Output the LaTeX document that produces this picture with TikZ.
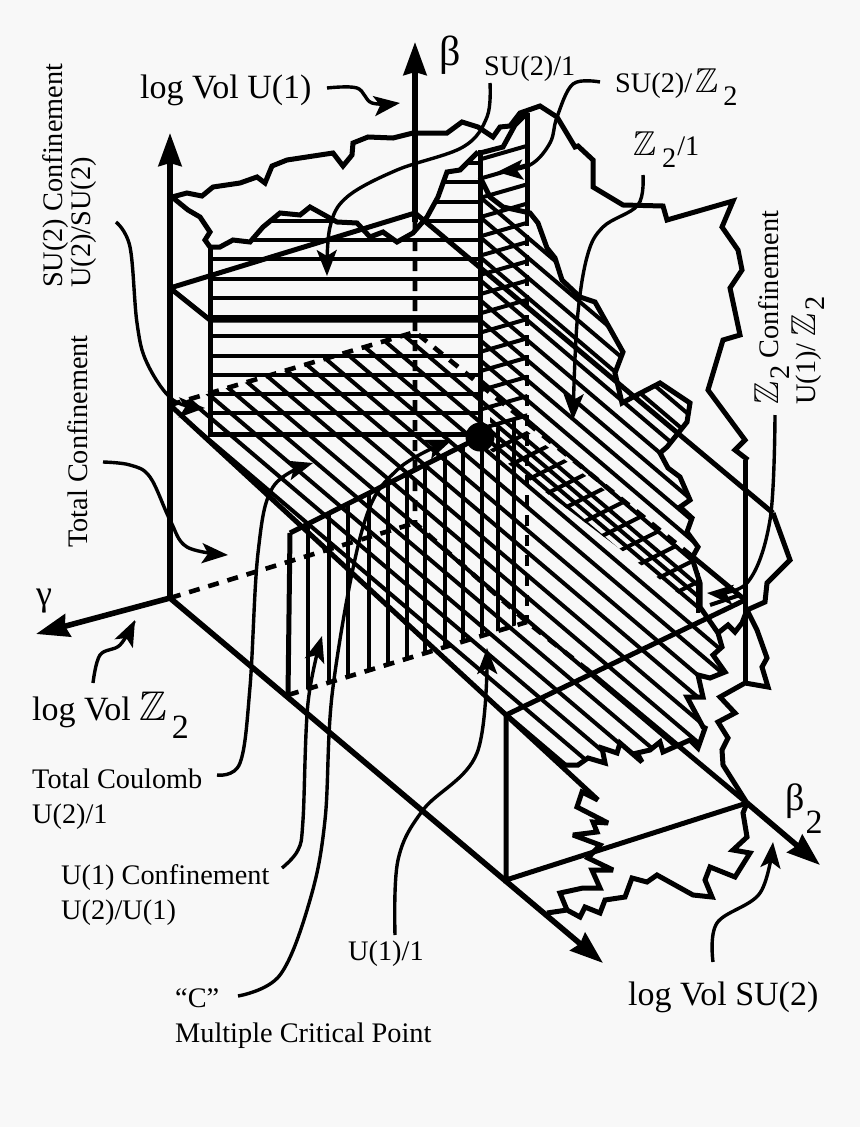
\documentclass[tikz,border=0pt]{standalone}
\usepackage{amsmath, amssymb}
\usepackage{fontspec}
\setmainfont{Liberation Serif}
\usetikzlibrary{arrows.meta}
\definecolor{paper}{HTML}{F8F8F8}
\tikzset{ax/.style={line width=5.6pt,-{Stealth[length=33pt,width=23pt,inset=3pt]}}}
\tikzset{rim/.style={line width=5pt,line join=miter,miter limit=3}}
\tikzset{ln/.style={line width=4pt}}
\tikzset{hid/.style={line width=4.6pt,dash pattern=on 11pt off 9pt}}
\tikzset{call/.style={line width=3.4pt,-{Stealth[length=26pt,width=20pt,inset=6pt]}}}
\tikzset{tx/.style={anchor=base west,inner sep=0,font=\fontsize{28.3}{28}\selectfont}}
\tikzset{big/.style={tx,font=\fontsize{34}{34}\selectfont}}
\newcommand{\dbz}{\scalebox{1.22}{$\mathbb{Z}$}}

\def\rimtop{(210,247) -- (220,247) -- (233,240) -- (250,242) -- (263,227) -- (280,213) -- (300,215) -- (310,207) -- (337,222) -- (357,223) -- (370,237) -- (383,232) -- (397,242) -- (413,233) -- (427,217) -- (438,197) -- (447,172) -- (460,170) -- (478,152)}
\def\rimside{(480,177) -- (490,197) -- (503,207) -- (530,213) -- (538,223) -- (547,248) -- (555,258) -- (562,280) -- (580,297) -- (595,302) -- (623,352) -- (615,373) -- (622,403) -- (633,397) -- (660,383) -- (690,403) -- (687,422) -- (667,447) -- (660,453) -- (668,468) -- (680,477) -- (690,500) -- (680,507) -- (692,518) -- (687,532) -- (698,547) -- (692,558) -- (700,583) -- (700,607) -- (718,633) -- (722,647) -- (713,655) -- (725,672) -- (710,678) -- (698,675) -- (703,697) -- (687,697) -- (703,727) -- (705,728) -- (698,748) -- (690,740) -- (663,752) -- (660,742) -- (650,750) -- (637,753) -- (642,762) -- (620,743) -- (617,753) -- (602,748) -- (605,763) -- (588,758) -- (578,765) -- (562,765)}

\begin{document}
\begin{tikzpicture}[x=1pt,y=-1pt]
    \useasboundingbox (0,0) rectangle (860,1127);
    \fill[paper] (0,0) rectangle (860,1127);

    \coordinate (O) at (170,598);
    \coordinate (T) at (170,288);
    \coordinate (M) at (170,405);
    \coordinate (P) at (415,213);
    \coordinate (Q) at (415,332);
    \coordinate (R) at (415,523);
    \coordinate (F) at (290,533);
    \coordinate (G) at (288,695);
    \coordinate (H) at (506,715);
    \coordinate (J) at (506,880);
    \coordinate (K) at (747,803);
    \coordinate (L) at (745,600);
    \coordinate (S) at (527,622);

    % horizontal lines
    \begin{scope}
      \clip \rimtop -- (480,152) -- (480,434) -- (210,434) -- cycle;
      \foreach \i in {0,1,...,13}
      {
        \pgfmathparse{163+19.25*\i}
        \edef\v{\pgfmathresult}
        \draw[ln] (200,\v) -- (490,\v);
      }
    \end{scope}

    % lines going down to the right
    \begin{scope}
      \clip (M) -- (Q) -- (480,387) -- \rimside -- (H) -- cycle;
      \foreach \v in {197,217,237,257,280,300,320,340,360,380,400,422,445,467,490,512,535,557,580,602,625,647,670,692}
      {
        \draw[ln] (100,\v-323) -- (900,\v+357);
      }
    \end{scope}

    % upright lines
    \begin{scope}
      \clip (F) -- (527,412) -- (S) -- (G) -- cycle;
      \foreach \x in {308,329,348,369,388,407,425,445,463,482,498,514}
      {
        \draw[ln] (\x,400) -- (\x,720);
      }
    \end{scope}

    % short lines in the back wall
    \begin{scope}
      \clip (480,153) -- (503,147) -- (515,125) -- (527,113) -- (527,437) -- (480,437) -- cycle;
      \foreach \i in {0,1,...,14}
      {
        \pgfmathparse{160+19.25*\i}
        \edef\v{\pgfmathresult}
        \draw[ln] (478,\v) -- (530,\v-15);
      }
    \end{scope}

    % narrow band: cross lines and the denser lines between
    \begin{scope}
      \clip (490,403) -- (693,557) -- (700,610) -- (490,450) -- cycle;
      \foreach \i in {-2,-1,...,10}
      {
        \pgfmathparse{527+18*\i}
        \edef\u{\pgfmathresult}
        \pgfmathparse{480+14.4*\i}
        \edef\v{\pgfmathresult}
        \draw[ln] (\u,\v) -- (\u+80,\v-40);
      }
      \foreach \v in {411,433}
      {
        \draw[ln] (100,\v-323) -- (900,\v+357);
      }
    \end{scope}
    \draw[ln] (710,605) -- (740,595);
    \draw[ln] (698,573) -- (698,613);

    % hidden edges
    \draw[hid] (415,220) -- (R) -- (S) -- (585,668);
    \draw[hid] (O) -- (R);
    \draw[hid] (M) -- (Q) -- (693,557);
    \draw[hid] (G) -- (S);
    \draw[hid] (527,215) -- (S);

    % box edges
    \draw[rim] (T) -- (P) -- (773,513);
    \draw[rim] (T) -- (210,320) -- (480,320);
    \draw[rim] (210,245) -- (210,434) -- (480,434);
    \draw[rim] (480,150) -- (480,437);
    \draw[rim] (527,113) -- (527,215);
    \draw[rim] (M) -- (H) -- (598,800);
    \draw[rim] (F) -- (480,437);
    \draw[rim] (F) -- (G);
    \draw[rim] (H) -- (L);
    \draw[rim] (693,557) -- (L);
    \draw[rim] (H) -- (J) -- (K);
    \draw[rim] (745,460) -- (745,683);
    \draw[rim] (585,668) -- (K);

    % axes
    \draw[ax] (O) -- (170,133);
    \draw[ax] (415,222) -- (415,42);
    \draw[ax] (O) -- (36,634);
    \draw[ax] (O) -- (603,963);
    \draw[ax] (K) -- (820,865);

    % jagged borders
    \draw[rim] \rimtop;
    \draw[rim] (210,247) -- (205,240) -- (210,232) -- (200,217) -- (188,210) -- (172,197);
    \draw[rim] (172,197) -- (187,193) -- (202,196) -- (213,187) -- (240,183) -- (257,177) -- (265,183) -- (272,166) -- (287,160) -- (333,153) -- (343,166) -- (352,155) -- (353,143) -- (368,137) -- (393,138) -- (413,133) -- (447,133) -- (462,122) -- (478,127) -- (493,137) -- (500,127) -- (510,126) -- (520,113) -- (540,106) -- (557,117) -- (575,147) -- (578,146) -- (593,160) -- (593,187) -- (623,205) -- (663,206) -- (667,220) -- (733,201) -- (722,227) -- (738,250) -- (742,270) -- (730,288) -- (740,335) -- (723,340) -- (708,390) -- (745,440) -- (735,450) -- (748,460);
    \draw[rim] (480,153) -- (503,147) -- (515,125) -- (527,113);
    \draw[rim] \rimside;
    \draw[rim] (773,513) -- (790,560) -- (767,583) -- (765,602) -- (747,610) -- (757,630) -- (767,658) -- (762,667) -- (768,687) -- (745,683) -- (720,697) -- (735,713) -- (718,722) -- (728,738) -- (722,750) -- (723,765) -- (K);
    \draw[rim] (718,633) -- (728,625) -- (735,632) -- (742,623) -- (747,610);
    \draw[rim] (K) -- (743,813) -- (747,837) -- (733,850) -- (750,853) -- (735,877) -- (710,867) -- (705,880) -- (712,897) -- (693,895) -- (657,875) -- (647,882) -- (632,878) -- (625,897) -- (605,900) -- (600,913) -- (585,907) -- (580,917) -- (567,910) -- (547,913);
    \draw[rim] (567,910) -- (560,893) -- (583,888) -- (600,888) -- (592,870) -- (613,870) -- (588,858) -- (600,845) -- (573,835) -- (597,832) -- (593,822) -- (608,823) -- (577,807) -- (582,792) -- (598,800);

    \node[circle,fill=black,inner sep=0,minimum size=29pt] (C) at (480,437) {};

    % labels
    \node[big,font=\fontsize{42}{42}\selectfont] (beta) at (439,65) {β};
    \node[big] (uvol) at (140,98) {log Vol U(1)};
    \node[tx] (su1) at (484,75) {SU(2)/1};
    \node[tx] (suz) at (615,92) {SU(2)/\kern3pt\dbz\kern5pt\raisebox{-13pt}{2}};
    \node[tx] (z1) at (633,155) {\dbz\kern6pt\raisebox{-12pt}{2}\kern1pt/1};
    \node[tx,rotate=90] (zcon) at (778,405) {\dbz\kern2pt\raisebox{-11pt}{2} Confinement};
    \node[tx,rotate=90] (zu) at (815,405) {U(1)/ \dbz\kern3pt\raisebox{-9pt}{2}};
    \node[tx,rotate=90] (sucon) at (62,288) {SU(2) Confinement};
    \node[tx,rotate=90] (usu) at (90,288) {U(2)/SU(2)};
    \node[tx,rotate=90] (tcon) at (87,548) {Total Confinement};
    \node[tx,font=\fontsize{36}{36}\selectfont] (gam) at (36,605) {γ};
    \node[big] (zvol) at (32,720) {log Vol \dbz\kern5pt\raisebox{-18pt}{2}};
    \node[tx] (tcou) at (32,788) {Total Coulomb};
    \node[tx] (u21) at (32,823) {U(2)/1};
    \node[tx] (ucon) at (61,884) {U(1) Confinement};
    \node[tx] (u2u) at (61,919) {U(2)/U(1)};
    \node[tx] (u11) at (348,960) {U(1)/1};
    \node[tx] (cq) at (175,1007) {“C”};
    \node[tx] (mcp) at (175,1042) {Multiple Critical Point};
    \node[big] (suvol) at (628,1005) {log Vol SU(2)};
    \node[big,font=\fontsize{38}{38}\selectfont] (bet2) at (785,810) {β\kern1pt\raisebox{-23pt}{\fontsize{34}{34}\selectfont 2}};

    % arrows from the labels
    \coordinate (a1) at (327,88);   \coordinate (b1) at (400,103);
    \coordinate (a2) at (490,83);   \coordinate (b2) at (327,276);
    \coordinate (a3) at (600,82);   \coordinate (b3) at (497,172);
    \coordinate (a4) at (643,175);  \coordinate (b4) at (573,420);
    \coordinate (a5) at (116,222);  \coordinate (b5) at (205,408);
    \coordinate (a6) at (103,462);  \coordinate (b6) at (228,555);
    \coordinate (a7) at (217,775);  \coordinate (b7) at (313,463);
    \coordinate (a8) at (282,868);  \coordinate (b8) at (322,636);
    \coordinate (a9) at (238,996);  \coordinate (b9) at (452,440);
    \coordinate (a10) at (395,935); \coordinate (b10) at (487,648);
    \coordinate (a11) at (93,683);  \coordinate (b11) at (135,620);
    \coordinate (a12) at (713,962); \coordinate (b12) at (773,842);
    \coordinate (a13) at (775,415); \coordinate (b13) at (707,593);
    \draw[call] plot[smooth,tension=.6] coordinates {(a1) (357,88) (372,103) (b1)};
    \draw[call] plot[smooth,tension=.6] coordinates {(a2) (487,117) (463,147) (397,170) (347,197) (330,227) (b2)};
    \draw[call] plot[smooth,tension=.6] coordinates {(a3) (573,84) (557,117) (550,143) (530,165) (b3)};
    \draw[call] plot[smooth,tension=.6] coordinates {(a4) (638,205) (603,227) (587,257) (577,323) (b4)};
    \draw[call] plot[smooth,tension=.6] coordinates {(a5) (130,247) (137,323) (147,363) (173,400) (b5)};
    \draw[call] plot[smooth,tension=.6] coordinates {(a6) (130,465) (150,477) (170,520) (187,547) (b6)};
    \draw[call] plot[smooth,tension=.6] coordinates {(a7) (240,763) (250,687) (258,553) (273,487) (b7)};
    \draw[call] plot[smooth,tension=.6] coordinates {(a8) (298,850) (303,820) (308,703) (b8)};
    \draw[call] plot[smooth,tension=.6] coordinates {(a9) (280,975) (310,900) (325,820) (333,687) (363,527) (397,470) (b9)};
    \draw[call] plot[smooth,tension=.6] coordinates {(a10) (398,860) (423,810) (477,753) (b10)};
    \draw[call] plot[smooth,tension=.6] coordinates {(a11) (100,655) (120,645) (b11)};
    \draw[call] plot[smooth,tension=.6] coordinates {(a12) (717,923) (760,893) (b12)};
    \draw[call] plot[smooth,tension=.6] coordinates {(a13) (770,520) (747,583) (b13)};
  \end{tikzpicture}
\end{document}
